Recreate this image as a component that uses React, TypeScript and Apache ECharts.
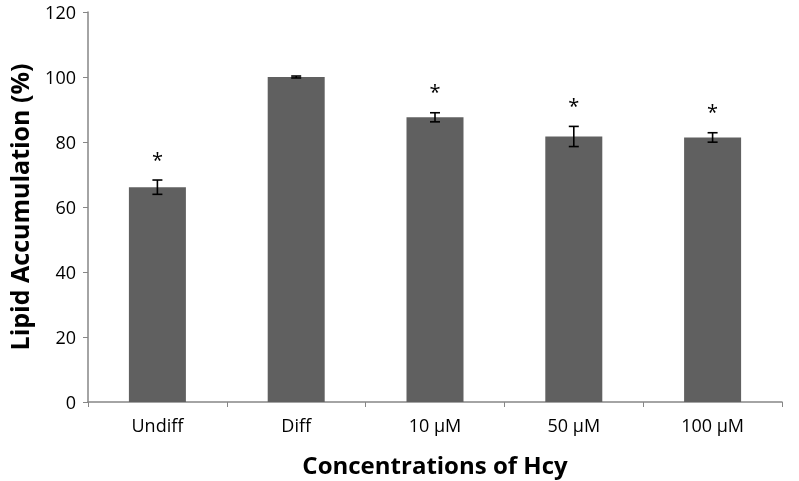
import React, { useEffect, useRef } from "react";
import * as echarts from "echarts";

const categories = ["Undiff", "Diff", "10 μM", "50 μM", "100 μM"];
const values = [66.1, 100, 87.6, 81.7, 81.4];
const errors = [2.2, 0.3, 1.4, 3.1, 1.45];
const significant = [true, false, true, true, true];
const yTicks = [0, 20, 40, 60, 80, 100, 120];

const FONT = "'Open Sans', 'Liberation Sans', sans-serif";

export default function App() {
  const ref = useRef<HTMLDivElement>(null);
  useEffect(() => {
    if (!ref.current) return;
    const chart = echarts.init(ref.current, undefined, { renderer: "svg" });
    const errData = values.map((v, i) => [i, v - errors[i], v + errors[i], significant[i] ? 1 : 0]);
    chart.setOption({
      animation: false,
      grid: {
        left: 88,
        right: 17,
        top: 12,
        bottom: 79,
        containLabel: false,
        outerBoundsMode: "none",
      },
      xAxis: {
        type: "category",
        data: categories,
        name: "Concentrations of Hcy",
        nameLocation: "middle",
        nameGap: 50,
        nameTextStyle: { fontFamily: FONT, fontSize: 24, fontWeight: "bold", color: "#000" },
        axisLine: { lineStyle: { color: "#868686", width: 1.5 } },
        axisTick: { show: true, length: 5, lineStyle: { color: "#868686" } },
        axisLabel: { fontFamily: FONT, fontSize: 18, color: "#000", margin: 14 },
      },
      yAxis: {
        type: "value",
        min: yTicks[0],
        max: yTicks[yTicks.length - 1],
        interval: 20,
        name: "Lipid Accumulation (%)",
        nameLocation: "middle",
        nameGap: 54,
        nameTextStyle: { fontFamily: FONT, fontSize: 25, fontWeight: "bold", color: "#000", lineHeight: 30 },
        axisLine: { show: true, lineStyle: { color: "#868686", width: 1.5 } },
        axisTick: { show: true, length: 5, lineStyle: { color: "#868686" } },
        splitLine: { show: false },
        axisLabel: { fontFamily: FONT, fontSize: 18, color: "#000", margin: 12 },
      },
      series: [
        {
          type: "bar",
          data: values,
          barWidth: 57,
          itemStyle: { color: "#606060" },
          z: 2,
        },
        {
          type: "custom",
          data: errData,
          z: 5,
          renderItem: (params: any, api: any) => {
            const x = api.value(0);
            const lo = api.coord([x, api.value(1)]);
            const hi = api.coord([x, api.value(2)]);
            const cx = hi[0];
            const w = 5;
            const style = { stroke: "#000", lineWidth: 1.6 };
            const children: any[] = [
              { type: "line", shape: { x1: cx, y1: hi[1], x2: cx, y2: lo[1] }, style },
              { type: "line", shape: { x1: cx - w, y1: hi[1], x2: cx + w, y2: hi[1] }, style },
              { type: "line", shape: { x1: cx - w, y1: lo[1], x2: cx + w, y2: lo[1] }, style },
            ];
            if (api.value(3) === 1) {
              children.push({
                type: "text",
                style: {
                  text: "*",
                  x: cx,
                  y: hi[1] - 21,
                  align: "center",
                  verticalAlign: "middle",
                  fontSize: 20,
                  fontFamily: FONT,
                  fill: "#000",
                },
              });
            }
            return { type: "group", children };
          },
        },
      ],
    });
    return () => chart.dispose();
  }, []);
  return (
    <div
      ref={ref}
      style={{ position: "fixed", left: 0, top: 0, width: 799, height: 481 }}
    />
  );
}
